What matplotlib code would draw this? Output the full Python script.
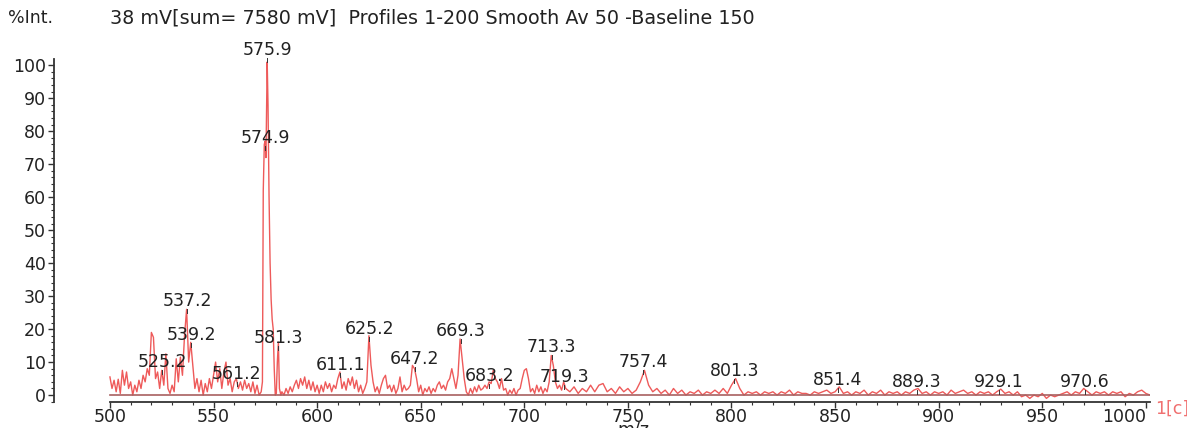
import numpy as np
import matplotlib
matplotlib.use('Agg')
import matplotlib.pyplot as plt
from matplotlib.ticker import MultipleLocator

plt.rcParams['font.family'] = ['DejaVu Sans']

# ── 스펙트럼 데이터 ─────────────────────────────────────────
mz_low = list(range(500, 573))
int_low = [5.5, 2, 4.5, 1, 4.8, 0.5, 7.5, 3, 7, 2,
           4, 0, 3, 1, 4.5, 2, 6, 4, 8, 6,
           19, 17.5, 5, 7, 2, 7.5, 3, 12.5, 2, 0.5,
           3, 1, 11, 4, 11.5, 6, 18, 26, 10, 16,
           9, 2, 5, 1, 4.5, 0, 3.5, 1, 5, 2,
           6, 10, 4, 8, 2, 7, 10, 3, 5, 1,
           4, 5, 2, 4, 1.5, 4.5, 2, 3.5, 1, 4,
           0.5, 3, 0]

mz_main = [573.0, 573.6, 574.0, 574.5, 574.9, 575.3, 575.9, 576.3, 576.8, 577.3,
           577.8, 578.3, 578.8, 579.3, 579.8, 580.3, 580.8, 581.3, 581.8, 582.5]
int_main = [1, 4, 62, 76, 77, 72, 101, 88, 60, 40,
            29, 23, 20, 8, 0, 0.5, 10, 16, 2, 0]

mz_mid = list(range(583, 721))
int_mid = [1, 0, 2, 0.5, 2.5, 1, 3, 4.5, 2, 5,
           3, 5.5, 2, 4.5, 1.5, 4, 1, 3, 0.5, 3,
           1, 4, 2, 3.5, 1, 3, 2, 5, 7, 2,
           4, 1.5, 5, 3, 5.5, 2, 4.5, 1, 3, 0.5,
           2, 4, 18, 9, 4, 1, 2.5, 0.5, 3, 5,
           6, 2, 3, 1, 3, 0.5, 2, 5.5, 1, 3,
           1.5, 2, 3, 9, 8, 5, 1, 3, 0, 2,
           1, 2.5, 0.5, 2, 1, 3, 4, 2, 3, 1.5,
           4, 5, 8, 5, 2, 6, 17, 11, 5, 1,
           0, 2, 0.5, 2.5, 1, 3, 1.5, 2, 3, 2,
           4, 3.5, 7.5, 5, 4, 2, 5, 1.5, 2, 0,
           1.5, 0.5, 2, 0, 1.5, 2, 5, 7.5, 8, 5,
           1, 2, 0.5, 3, 1, 2.5, 0.5, 2, 1, 4,
           12, 9, 4, 2, 3, 1.5, 4, 2]

mz_high = list(range(722, 1005, 2))
int_high = [1, 2.5, 0.5, 2, 1, 3, 1, 3, 3.5, 1,
            2, 0.5, 2.5, 1, 2, 0.5, 1.5, 4, 7.5, 3,
            1, 2, 0.5, 1.5, 0, 2, 0.5, 1.5, 0, 1,
            0.5, 1.5, 0, 1, 0.5, 1.5, 0.5, 2, 0.5, 3,
            5, 2, 0, 1, 0.5, 1, 0, 1, 0.5, 1,
            0, 1, 0.5, 1.5, 0, 1, 0.5, 0.5, 0, 1,
            0.5, 1, 1.5, 0.5, 1, 2.5, 0.5, 1, 0, 1,
            0.5, 1.5, 0, 1, 0.5, 1.5, 0, 1, 0.5, 1,
            0, 1, 0.5, 1.5, 2, 0.5, 1, 0, 1, 0.5,
            1, 0, 1.5, 0.5, 1, 1.5, 0.5, 1, 0, 1,
            0.5, 1, 0, 1, 1.8, 0.5, 1, 0, 1, -0.5,
            0, -1, 0, -0.5, 0.5, -1, 0, -0.5, 0, 0.5,
            1, 0, 1, 0.5, 2, 1, 0, 1, 0.5, 1,
            0, 1, 0.5, 1, -0.5, 0.5, 0, 1, 1.5, 0.5,
            0, -1]

mz = mz_low + mz_main + mz_mid + mz_high
inten = int_low + int_main + int_mid + int_high

# 피크 라벨 (m/z, 라벨 아래쪽 높이 %)
peak_mz = [525.2, 537.2, 539.2, 561.2, 574.9, 575.9, 581.3, 611.1, 625.2, 647.2,
           669.3, 683.2, 713.3, 719.3, 757.4, 801.3, 851.4, 889.3, 929.1, 970.6]
peak_h = [7.6, 26.2, 15.8, 4.0, 75.5, 102.3, 15.0, 6.7, 17.6, 8.6,
          17.0, 3.3, 12.0, 3.0, 7.6, 5.0, 2.0, 1.5, 1.5, 1.5]

xtick_vals = list(range(500, 1001, 50))

# ── 그림 ──────────────────────────────────────────────────────────
fig = plt.figure(figsize=(11.87, 4.28), dpi=100)
ax = fig.add_axes([54 / 1187, 26 / 428, 1096 / 1187, 343 / 428])

ax.plot(mz, inten, color='#ee5a5a', linewidth=1.0, zorder=3)
ax.plot([500, 1004], [0, 0], color='#a86060', linewidth=1.2, zorder=4)

for m, h in zip(peak_mz, peak_h):
    ax.plot([m, m], [h - 1.2, h], color='#333333', linewidth=0.7, zorder=5, clip_on=False)
    ax.text(m, h - 0.3, f'{m:.1f}', ha='center', va='bottom', fontsize=12.5,
            color='#222222', zorder=6, clip_on=False)

ax.set_xlim(473, 1002)
ax.set_ylim(-2.1, 101.9)

for s in ['top', 'right']:
    ax.spines[s].set_visible(False)
ax.spines['bottom'].set_bounds(500, 1002)
for s in ['left', 'bottom']:
    ax.spines[s].set_color('#333333')
    ax.spines[s].set_linewidth(1.3)

ax.set_xticks(xtick_vals)
ax.set_xticks(list(range(500, 1001, 10)), minor=True)
ax.yaxis.set_major_locator(MultipleLocator(10))
ax.yaxis.set_minor_locator(MultipleLocator(2))
ax.tick_params(axis='both', which='major', length=4, width=1, color='#333333',
               labelsize=12.5, labelcolor='#222222')
ax.tick_params(axis='both', which='minor', length=2.5, width=0.8, color='#333333')
ax.tick_params(axis='x', pad=0)
ax.tick_params(axis='y', pad=2)
# 마지막 눈금 라벨(1000)은 눈금 왼쪽으로
ax.get_xticklabels()[-1].set_horizontalalignment('right')

fig.text(8 / 1187, 1 - 18 / 428, '%Int.', fontsize=12.5, va='center', color='#222222')
fig.text(110 / 1187, 1 - 18 / 428,
         '38 mV[sum= 7580 mV]  Profiles 1-200 Smooth Av 50 -Baseline 150',
         fontsize=13.8, va='center', color='#222222')
# 원본처럼 아래 가장자리에서 잘린 축 이름
fig.text(633 / 1187, 1 - 421 / 428, 'm/z', fontsize=12.5, ha='center', va='top',
         color='#222222')
fig.text(1155 / 1187, 1 - 409 / 428, '1[c]', fontsize=12.5, va='center', color='#f07070')

fig.savefig('out.png', dpi=100)
